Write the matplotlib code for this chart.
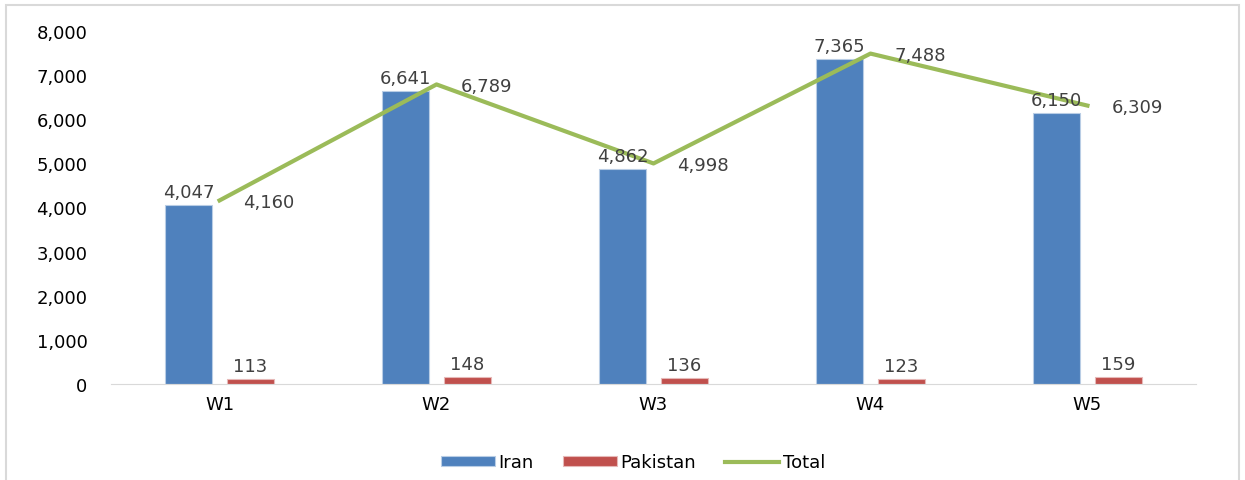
import numpy as np
import matplotlib.pyplot as plt
from matplotlib.patches import Rectangle
from matplotlib.ticker import FuncFormatter

weeks = ['W1', 'W2', 'W3', 'W4', 'W5']
iran = [4047, 6641, 4862, 7365, 6150]
pakistan = [113, 148, 136, 123, 159]
total = [4160, 6789, 4998, 7488, 6309]

c_iran = '#4F81BD'
c_pak = '#C0504D'
c_total = '#9BBB59'
txt = '#404040'
fs = 13

fig = plt.figure(figsize=(12.45, 4.81), dpi=100)
ax = fig.add_axes([0.0892, 0.1996, 0.8714, 0.7339])

x = np.arange(len(weeks))
w = 0.22
off = 0.143

b1 = ax.bar(x - off, iran, w, color=c_iran, edgecolor='#B9CDE5', linewidth=0.8, label='Iran', zorder=2)
b2 = ax.bar(x + off, pakistan, w, color=c_pak, edgecolor='#E6B9B8', linewidth=0.8, label='Pakistan', zorder=2)
l1, = ax.plot(x, total, color=c_total, linewidth=3, label='Total', zorder=3)

for i in range(len(weeks)):
    ax.text(x[i] - off, iran[i] + 90, f'{iran[i]:,}', ha='center', va='bottom', fontsize=fs, color=txt)
    ax.text(x[i] + off, pakistan[i] + 90, f'{pakistan[i]:,}', ha='center', va='bottom', fontsize=fs, color=txt)
    ax.text(x[i] + 0.11, total[i] - 40, f'{total[i]:,}', ha='left', va='center', fontsize=fs, color=txt)

ax.set_xlim(-0.5, len(weeks) - 0.5)
ax.set_ylim(0, 8000)
ax.set_yticks(np.arange(0, 8001, 1000))
ax.yaxis.set_major_formatter(FuncFormatter(lambda v, p: f'{int(v):,}'))
ax.set_xticks(x)
ax.set_xticklabels(weeks)

for s in ['top', 'right', 'left']:
    ax.spines[s].set_visible(False)
ax.spines['bottom'].set_color('#D9D9D9')
ax.tick_params(axis='y', length=0, pad=17, labelsize=fs, labelcolor='black')
ax.tick_params(axis='x', length=0, pad=8, labelsize=fs, labelcolor='black')

ax.legend([b1, b2, l1], ['Iran', 'Pakistan', 'Total'], loc='center', bbox_to_anchor=(0.481, -0.222),
          ncol=3, frameon=False, fontsize=fs, handlelength=3.0, handleheight=0.5,
          columnspacing=1.6, handletextpad=0.2)

fig.patches.append(Rectangle((0.005, -0.01), 0.99, 0.997, transform=fig.transFigure,
                             fill=False, edgecolor='#D9D9D9', linewidth=1.5))

fig.savefig('out.png', dpi=100)
